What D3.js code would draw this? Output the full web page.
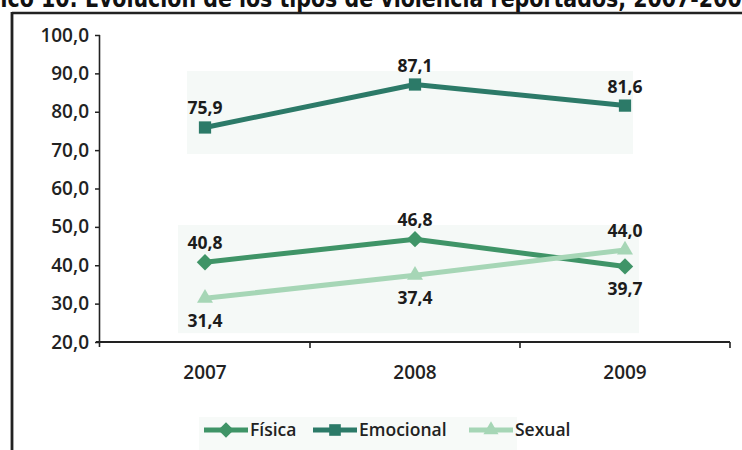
<!DOCTYPE html>
<html>
<head>
<meta charset="utf-8">
<script src="https://cdn.jsdelivr.net/npm/d3@7"></script>
<style>
  html, body { margin: 0; padding: 0; background: #fff; }
  svg { display: block; }
</style>
</head>
<body>
<svg id="chart" width="742" height="450"></svg>
<script>
// Reported violence types, percentages by year
const years = ["2007", "2008", "2009"];
const fisica = [40.8, 46.8, 39.7];
const emocional = [75.9, 87.1, 81.6];
const sexual = [31.4, 37.4, 44.0];
const yTicks = [20, 30, 40, 50, 60, 70, 80, 90, 100];
const seriesNames = ["Física", "Emocional", "Sexual"];
const titleText = "Gráfico 10: Evolución de los tipos de violencia reportados, 2007-2009";

const series = [
  { name: seriesNames[0], values: fisica, color: "#3f9467", symbol: d3.symbolSquare, size: 135, rotate: 45, labelSide: ["above", "above", "below"] },
  { name: seriesNames[1], values: emocional, color: "#2c7a68", symbol: d3.symbolSquare, size: 150, rotate: 0, labelSide: ["above", "above", "above"] },
  { name: seriesNames[2], values: sexual, color: "#a6d6b6", symbol: d3.symbolTriangle, size: 110, rotate: 0, labelSide: ["below", "below", "above"] }
];

const svg = d3.select("#chart");
const font = "'Open Sans', 'DejaVu Sans', sans-serif";

const x = d3.scaleBand().domain(years).range([100, 730]);
const y = d3.scaleLinear().domain([20, 100]).range([342, 35]);
const cx = d => x(d) + x.bandwidth() / 2;

// Title, running off the top of the page
const title = svg.append("text")
  .attr("font-family", "'DejaVu Sans', sans-serif")
  .attr("font-weight", "bold")
  .attr("font-size", 24)
  .attr("fill", "#111")
  .text(titleText);
const node = title.node();
const startW = node.getSubStringLength(0, 4);
const endW = node.getSubStringLength(0, titleText.length - 1);
const sx = 742 / (endW - startW);
title.attr("transform", `translate(${-startW * sx},7) scale(${sx},1)`);

// Frame
svg.append("line").attr("x1", 12).attr("x2", 742).attr("y1", 13).attr("y2", 13)
  .attr("stroke", "#222").attr("stroke-width", 2.6);
svg.append("line").attr("x1", 12).attr("x2", 12).attr("y1", 12).attr("y2", 450)
  .attr("stroke", "#222").attr("stroke-width", 2.8);

// Soft backdrops behind the two groups of lines
const backdrop = "#f5f9f7";
svg.append("rect")
  .attr("x", cx(years[0]) - 18).attr("width", cx(years[2]) + 8 - (cx(years[0]) - 18))
  .attr("y", y(90.6)).attr("height", y(69.0) - y(90.6))
  .attr("fill", backdrop);
svg.append("rect")
  .attr("x", cx(years[0]) - 27).attr("width", cx(years[2]) + 14 - (cx(years[0]) - 27))
  .attr("y", y(50.5)).attr("height", y(22.3) - y(50.5))
  .attr("fill", backdrop);

// Y axis
const yAxis = svg.append("g").attr("transform", "translate(100,0)")
  .call(d3.axisLeft(y).tickValues(yTicks).tickSize(5).tickPadding(6)
    .tickFormat(d => d3.format(".1f")(d).replace(".", ",")));
yAxis.select(".domain").attr("stroke", "#222").attr("stroke-width", 1.6)
  .attr("d", "M-0.5,35V347");
yAxis.selectAll(".tick line").attr("stroke", "#222").attr("stroke-width", 1.5);
yAxis.selectAll(".tick text").attr("font-family", font).attr("font-weight", 600)
  .attr("font-size", 19).attr("fill", "#222");

// X axis
const xAxis = svg.append("g").attr("transform", "translate(0,342)");
xAxis.append("line").attr("x1", 96).attr("x2", 730).attr("y1", 0).attr("y2", 0)
  .attr("stroke", "#222").attr("stroke-width", 2.2);
xAxis.selectAll("line.tk").data(years.slice(1).concat(["end"])).enter().append("line")
  .attr("class", "tk")
  .attr("x1", (d, i) => i < 2 ? x(d) : x.range()[1])
  .attr("x2", (d, i) => i < 2 ? x(d) : x.range()[1])
  .attr("y1", 0).attr("y2", 6).attr("stroke", "#222").attr("stroke-width", 1.6);
xAxis.selectAll("text").data(years).enter().append("text")
  .attr("x", d => cx(d)).attr("y", 37)
  .attr("text-anchor", "middle")
  .attr("font-family", font).attr("font-weight", 600).attr("font-size", 19)
  .attr("fill", "#222").text(d => d);

// Lines, markers and value labels
const line = d3.line().x((d, i) => cx(years[i])).y(d => y(d));
series.forEach(s => {
  const g = svg.append("g");
  g.append("path").datum(s.values).attr("d", line)
    .attr("fill", "none").attr("stroke", s.color).attr("stroke-width", 5)
    .attr("stroke-linejoin", "round");
  g.selectAll("path.m").data(s.values).enter().append("path")
    .attr("class", "m")
    .attr("d", d3.symbol().type(s.symbol).size(s.size))
    .attr("transform", (d, i) => `translate(${cx(years[i])},${y(d)}) rotate(${s.rotate})`)
    .attr("fill", s.color);
});
series.forEach(s => {
  svg.append("g").selectAll("text").data(s.values).enter().append("text")
    .attr("x", (d, i) => cx(years[i]))
    .attr("y", (d, i) => y(d) + (s.labelSide[i] === "above" ? -13 : 29))
    .attr("text-anchor", "middle")
    .attr("font-family", font).attr("font-weight", 700).attr("font-size", 17.5)
    .attr("fill", "#1c1c1c")
    .text(d => d3.format(".1f")(d).replace(".", ","));
});

// Legend
const legend = svg.append("g");
legend.append("rect").attr("x", 199).attr("y", 417).attr("width", 318).attr("height", 33)
  .attr("fill", "#f7faf8");
const legendX = [204, 313, 469];
series.forEach((s, i) => {
  const lg = legend.append("g").attr("transform", `translate(${legendX[i]},430)`);
  lg.append("line").attr("x1", 0).attr("x2", 44).attr("y1", 0).attr("y2", 0)
    .attr("stroke", s.color).attr("stroke-width", 5);
  lg.append("path").attr("d", d3.symbol().type(s.symbol).size(s.size * 0.9))
    .attr("transform", `translate(22,0) rotate(${s.rotate})`).attr("fill", s.color);
  lg.append("text").attr("x", 46).attr("y", 6)
    .attr("font-family", font).attr("font-weight", 600).attr("font-size", 17.5)
    .attr("fill", "#222").text(s.name);
});
</script>
</body>
</html>
